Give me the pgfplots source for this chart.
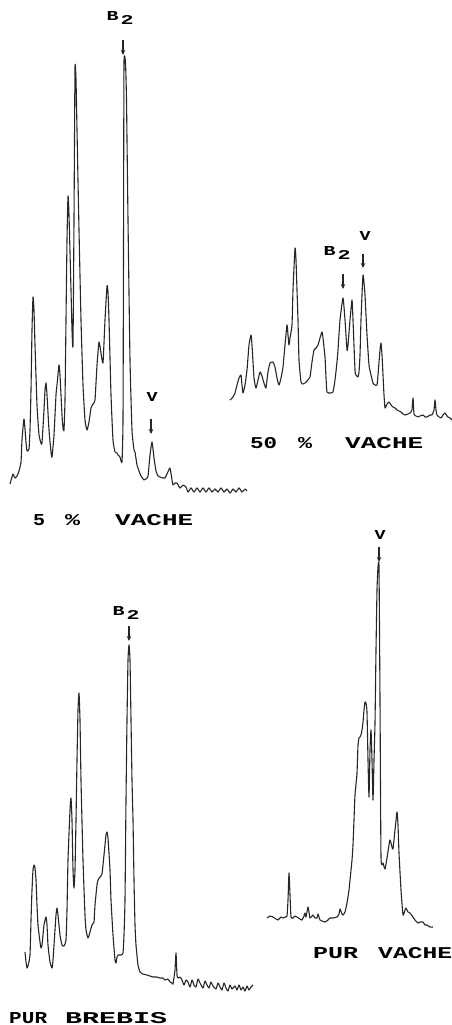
\documentclass[border=0pt]{standalone}
\usepackage{pgfplots}
\pgfplotsset{compat=1.18}
\usetikzlibrary{arrows.meta}
\usepackage{fontspec}
\newfontfamily\labfont{Liberation Mono}
\newcommand{\wrd}[2]{\resizebox{#1pt}{11pt}{\labfont\bfseries #2}}
\newcommand{\Btwo}{\resizebox{12pt}{9pt}{\labfont\bfseries B}\hspace{2pt}\raisebox{-4pt}{\resizebox{13pt}{9pt}{\labfont\bfseries 2}}}
\newcommand{\Vl}{\resizebox{11pt}{9pt}{\labfont\bfseries V}}
\pgfplotsset{trace/.style={no marks, line width=1.1pt, black!85, smooth, tension=0.3, line join=round}}
\tikzset{pk/.style={-{Stealth[length=5pt,width=4.5pt]}, line width=1.2pt, black!85}}
\begin{document}
\begin{tikzpicture}
\begin{axis}[name=a, scale only axis, width=452pt, height=1025pt,
  xmin=0, xmax=452, ymin=0, ymax=1025, y dir=reverse, hide axis, clip=false]
% 5 % VACHE
\addplot[trace] coordinates {
(10,484) (12,477) (13,474) (15,478) (17,476) (19,471) (21,462) (22,440) (24,419) (26,442) (27,451) (29,449) (30,430) (31,390) (32,330) (33,297) (34,310) (35,345) (37,405) (39,435) (41,443) (42,443) (44,410) (45,390) (46,383) (47,395) (49,430) (51,452) (52,457) (54,435) (56,395) (57,385) (59,365) (60,375) (62,415) (63,428) (64,430) (65,400) (66,320) (67,240) (68,196) (69,215) (71,290) (72,330) (73,345) (74,220) (75,68) (76,80) (77,130) (79,230) (81,320) (83,385) (85,420) (87,430) (89,422) (91,408) (93,404) (95,400) (97,365) (99,342) (101,353) (103,363) (105,320) (107,286) (108,292) (109,320) (111,395) (113,440) (115,452) (117,453) (118,455) (120,457) (122,462) (123,420) (123.5,250) (124,63) (125.5,63) (126.5,100) (128,220) (130,360) (132,430) (134,450) (135,452) (137,465) (139,471) (141,476) (144,480) (146,479) (148,476) (150,455) (152,442) (154,458) (156,471) (158,476) (160,477) (163,478) (165,478) (167,474) (170,468) (172,480) (173,485) (175,483) (177,483) (180,488) (183,485) (186,487) (188,492) (191,488) (194,492) (197,488) (200,492) (203,488) (206,492) (209,488) (212,492) (215,489) (218,492) (221,488) (224,492) (227,489) (230,493) (233,489) (236,492) (239,488) (242,492) (245,489) (247,491)
};
% 50 % VACHE
\addplot[trace] coordinates {
(230,400) (233,397) (235,393) (237,385) (239,378) (241,375) (242,385) (243,393) (245,385) (247,370) (249,345) (251,335) (252,345) (254,378) (256,388) (258,380) (260,372) (262,376) (263,380) (265,386) (266,388) (268,372) (270,363) (273,362) (275,367) (277,378) (279,385) (281,378) (283,367) (285,345) (287,325) (288,335) (289,345) (290,338) (292,325) (293,290) (295,248) (296,260) (297,290) (298,320) (299,360) (301,382) (303,384) (305,383) (307,381) (310,377) (312,362) (314,350) (316,348) (318,345) (320,338) (322,332) (323,338) (325,357) (326,378) (327,392) (330,393) (333,392) (335,380) (337,362) (338,350) (340,320) (343,298) (345,320) (347,350) (348,345) (350,320) (352,300) (353,320) (355,370) (356,375) (358,377) (359,372) (360,355) (361,320) (363,275) (365,295) (367,335) (369,365) (371,375) (373,383) (375,385) (377,385) (378,375) (380,350) (381,343) (382,355) (383,375) (384,395) (385,408) (387,404) (389,402) (391,405) (393,407) (395,408) (397,410) (399,411) (401,412) (403,414) (405,415) (408,414) (410,413) (412,410) (413,398) (414,414) (416,416) (418,417) (420,416) (423,415) (425,417) (427,417) (430,415) (432,415) (434,410) (435,400) (436,410) (437,415) (439,417) (441,418) (443,415) (445,413) (447,416) (448,417) (450,418) (452,420)
};
% PUR BREBIS
\addplot[trace] coordinates {
(25,952) (26,962) (27,968) (28,966) (30,955) (31,920) (32,890) (33,870) (34,865) (35,868) (36,880) (37,905) (38,925) (40,942) (41,948) (42,945) (44,925) (46,917) (47,925) (48,945) (50,962) (52,968) (53,960) (55,930) (56,915) (57,908) (58,915) (60,935) (62,945) (64,946) (66,940) (67,910) (68,860) (70,810) (71,798) (72,820) (73,870) (74,888) (75,870) (76,820) (77,760) (78,710) (79,693) (80,720) (81,780) (83,860) (85,915) (86,930) (88,938) (90,932) (92,925) (94,922) (95,905) (97,885) (98,880) (100,877) (102,874) (104,855) (106,835) (107,832) (108,838) (110,870) (111,900) (113,935) (115,960) (116,963) (117,957) (118,955) (121,955) (123,953) (124,935) (125,900) (126,800) (127,720) (128,660) (129,645) (130,660) (131,720) (132,780) (133,820) (134,880) (135,925) (136,945) (138,965) (140,972) (143,974) (147,975) (150,976) (153,977) (157,977) (160,978) (163,978) (165,980) (168,979) (170,982) (172,983) (173,984) (175,970) (176,953) (177,975) (178,978) (180,977) (182,980) (184,985) (186,980) (188,982) (190,987) (192,980) (194,985) (196,987) (198,979) (200,983) (203,988) (205,981) (207,985) (209,988) (211,982) (213,986) (216,989) (218,983) (220,987) (222,990) (224,983) (226,988) (228,991) (230,985) (232,989) (235,986) (237,990) (239,985) (241,990) (243,987) (245,991) (247,986) (249,990) (251,987) (253,985)
};
% PUR VACHE
\addplot[trace] coordinates {
(267,918) (270,916) (273,917) (276,919) (278,920) (281,917) (283,918) (285,917) (287,916) (288,900) (289,873) (290,895) (291,917) (293,918) (295,916) (297,917) (300,919) (302,920) (304,916) (305,913) (306,917) (308,907) (309,912) (310,918) (312,916) (313,915) (315,918) (317,918) (318,914) (320,920) (322,921) (325,922) (328,920) (330,918) (333,918) (337,917) (339,914) (340,909) (342,914) (343,915) (345,912) (347,903) (349,890) (350,880) (352,860) (353,845) (354,820) (355,795) (357,773) (358,745) (359,738) (360,737) (361,735) (362,730) (363,722) (364,710) (365,702) (366,703) (367,712) (368,760) (369,797) (370,750) (371,730) (372,760) (373,800) (374,760) (375,723) (376,650) (377,590) (378,567) (379,567) (380,700) (381,857) (383,863) (385,869) (387,858) (389,845) (390,840) (392,847) (393,849) (395,830) (397,812) (398,825) (399,853) (401,890) (403,915) (405,910) (406,908) (408,912) (410,913) (413,917) (415,920) (418,923) (420,922) (423,922) (425,925) (427,925) (430,927) (433,927)
};
% peak labels and arrows
\node at (axis cs:120,18) {\Btwo};
\draw[pk] (axis cs:123,40) -- (axis cs:123,55);
\node at (axis cs:152,397) {\Vl};
\draw[pk] (axis cs:151,419) -- (axis cs:151,434);
\node at (axis cs:337,253) {\Btwo};
\draw[pk] (axis cs:343,274) -- (axis cs:343,289);
\node at (axis cs:365,236) {\Vl};
\draw[pk] (axis cs:363,254) -- (axis cs:363,268);
\node at (axis cs:126,613) {\Btwo};
\draw[pk] (axis cs:129,626) -- (axis cs:129,641);
\node at (axis cs:380,535) {\Vl};
\draw[pk] (axis cs:379,547) -- (axis cs:379,562);
% panel titles
\node[anchor=west, inner sep=0] at (axis cs:33,520) {\wrd{12}{5}};
\node[anchor=west, inner sep=0] at (axis cs:65,520) {\wrd{15}{\%}};
\node[anchor=west, inner sep=0] at (axis cs:115,520) {\wrd{78}{VACHE}};
\node[anchor=west, inner sep=0] at (axis cs:250,443) {\wrd{27}{50}};
\node[anchor=west, inner sep=0] at (axis cs:298,443) {\wrd{14}{\%}};
\node[anchor=west, inner sep=0] at (axis cs:345,443) {\wrd{78}{VACHE}};
\node[anchor=west, inner sep=0] at (axis cs:9,1018) {\wrd{38}{PUR}};
\node[anchor=west, inner sep=0] at (axis cs:65,1018) {\wrd{102}{BREBIS}};
\node[anchor=west, inner sep=0] at (axis cs:313,953) {\wrd{45}{PUR}};
\node[anchor=west, inner sep=0] at (axis cs:378,953) {\wrd{74}{VACHE}};
\end{axis}
\pgfresetboundingbox
\path[use as bounding box] (a.south west) rectangle (a.north east);
\end{tikzpicture}
\end{document}
